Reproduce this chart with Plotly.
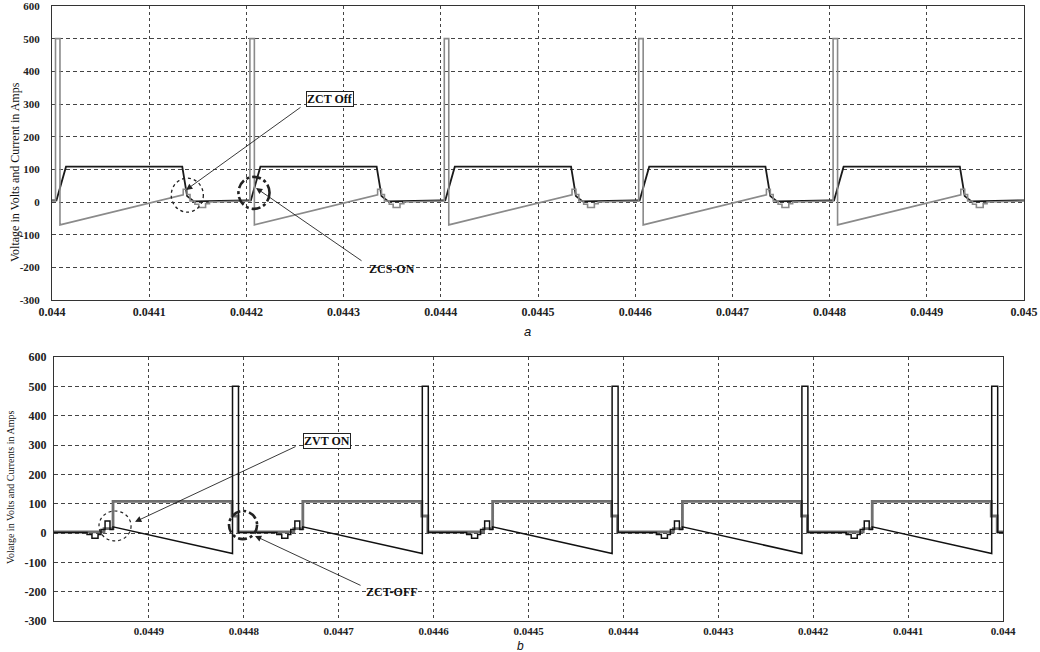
import plotly.graph_objects as go

# ---------------- data ----------------
# (a) top panel: one switching period, offsets in microseconds from the period start
top_period_starts = [0.0440, 0.0442, 0.0444, 0.0446, 0.0448]
top_gray_off_us = [0, 3.6, 3.6, 8.2, 8.2, 135, 135, 139, 139, 142, 142, 147, 147, 151, 151, 158, 158, 162, 162, 200]
top_gray_val = [3, 3, 500, 500, -70, 22, 39, 39, 23, 23, 3, 3, -7, -7, -17, -17, -5, -5, 0, 3]
top_black_off_us = [0, 4.6, 14.4, 134, 139, 146, 200]
top_black_val = [5, 5, 108, 108, 18, 2, 5]

# (b) bottom panel: offsets in microseconds to the right of each grid line
bot_period_starts = [0.0450, 0.0448, 0.0446, 0.0444, 0.0442]
bot_gray_off_us = [0, 52.7, 52.7, 62.2, 62.2, 187.6, 187.6, 193.9, 193.9, 200]
bot_gray_val = [4, 4, 15, 15, 108, 108, 58, 58, 4, 4]
bot_black_off_us = [0, 34.8, 34.8, 40, 40, 46.4, 46.4, 49.5, 49.5, 53.8, 53.8, 59, 59, 62.2, 62.2,
                    188.1, 188.1, 194.4, 194.4, 200]
bot_black_val = [2, 2, -5, -5, -18, -18, -5, -5, 12, 12, 41, 41, 12, 12, 21,
                 -70, 500, 500, 2, 2]

top_xtickvals = [0.0440, 0.0441, 0.0442, 0.0443, 0.0444, 0.0445, 0.0446, 0.0447, 0.0448, 0.0449, 0.0450]
top_xticktext = ["0.044", "0.0441", "0.0442", "0.0443", "0.0444", "0.0445", "0.0446", "0.0447", "0.0448", "0.0449", "0.045"]
bot_xtickvals = [0.0449, 0.0448, 0.0447, 0.0446, 0.0445, 0.0444, 0.0443, 0.0442, 0.0441, 0.0440]
bot_xticktext = ["0.0449", "0.0448", "0.0447", "0.0446", "0.0445", "0.0444", "0.0443", "0.0442", "0.0441", "0.044"]
ytickvals = [-300, -200, -100, 0, 100, 200, 300, 400, 500, 600]
yticktext = ["-300", "-200", "-100", "0", "100", "200", "300", "400", "500", "600"]

top_ylabel = "Voltage in Volts and Current in Amps"
bot_ylabel = "Volatge in Volts and Currents in Amps"

# annotation anchors (data coordinates)
top_zct_circle = dict(xc=0.0441392, yc=21, rx=1.65e-5, ry=52)
top_zcs_circle = dict(xc=0.0442078, yc=28, rx=1.6e-5, ry=49)
bot_zvt_circle = dict(xc=0.0449357, yc=24, rx=1.69e-5, ry=51)
bot_zct_circle = dict(xc=0.0448008, yc=27, rx=1.48e-5, ry=48)


def tile(starts, offs_us, vals, sign):
    xs, ys = [], []
    for s in starts:
        for o, v in zip(offs_us, vals):
            xs.append(s + sign * o * 1e-6)
            ys.append(v)
    return xs, ys


tgx, tgy = tile(top_period_starts, top_gray_off_us, top_gray_val, 1)
tbx, tby = tile(top_period_starts, top_black_off_us, top_black_val, 1)
bgx, bgy = tile(bot_period_starts, bot_gray_off_us, bot_gray_val, -1)
bbx, bby = tile(bot_period_starts, bot_black_off_us, bot_black_val, -1)

fig = go.Figure()
fig.add_trace(go.Scatter(x=tbx, y=tby, mode="lines", line=dict(color="#1a1a1a", width=1.8),
                         xaxis="x", yaxis="y", showlegend=False))
fig.add_trace(go.Scatter(x=tgx, y=tgy, mode="lines", line=dict(color="#8a8a8a", width=1.6),
                         xaxis="x", yaxis="y", showlegend=False))
fig.add_trace(go.Scatter(x=bgx, y=bgy, mode="lines", line=dict(color="#707070", width=2.8),
                         xaxis="x2", yaxis="y2", showlegend=False))
fig.add_trace(go.Scatter(x=bbx, y=bby, mode="lines", line=dict(color="#111111", width=1.5),
                         xaxis="x2", yaxis="y2", showlegend=False))


def tf(size):
    return dict(family="Liberation Serif", size=size, color="#222", weight="bold")


axis_common = dict(showline=True, linecolor="#333", linewidth=1, mirror=True,
                   showgrid=True, gridcolor="#444", gridwidth=1, zeroline=False,
                   ticks="", automargin=False, ticklabeloverflow="allow")

fig.update_layout(
    template="none",
    width=1040, height=652,
    margin=dict(l=0, r=0, t=0, b=0, pad=0),
    paper_bgcolor="white", plot_bgcolor="white",
    showlegend=False,
    xaxis=dict(domain=[52 / 1040, 1024 / 1040], range=[0.0440, 0.0450], tickvals=top_xtickvals,
               ticktext=top_xticktext, griddash="dot", anchor="y", ticklabelstandoff=1,
               tickfont=tf(12), **axis_common),
    yaxis=dict(domain=[1 - 300 / 652, 1 - 6 / 652], range=[-300, 600], tickvals=ytickvals,
               ticktext=yticktext, griddash="4px,3px", anchor="x", ticklabelstandoff=9,
               tickfont=tf(11), **axis_common),
    xaxis2=dict(domain=[54 / 1040, 1003 / 1040], range=[0.0450, 0.0440], tickvals=bot_xtickvals,
                ticktext=bot_xticktext, griddash="dot", anchor="y2", ticklabelstandoff=0,
                tickfont=tf(11), **axis_common),
    yaxis2=dict(domain=[1 - 621 / 652, 1 - 357 / 652], range=[-300, 600], tickvals=ytickvals,
                ticktext=yticktext, griddash="4px,3px", anchor="x2", ticklabelstandoff=4,
                tickfont=tf(12), **axis_common),
)


def circ(c, xref, yref, dash, width):
    return dict(type="circle", xref=xref, yref=yref,
                x0=c["xc"] - c["rx"], x1=c["xc"] + c["rx"],
                y0=c["yc"] - c["ry"], y1=c["yc"] + c["ry"],
                line=dict(color="#222", width=width, dash=dash))


fig.update_layout(shapes=[
    circ(top_zct_circle, "x", "y", "dot", 1.3),
    circ(top_zcs_circle, "x", "y", "dashdot", 2.6),
    circ(bot_zvt_circle, "x2", "y2", "dot", 1.2),
    circ(bot_zct_circle, "x2", "y2", "dashdot", 2.6),
])

labfont = dict(family="Liberation Serif", size=12, color="#111")
annots = []


def arrow(xref, yref, tip, tail):
    return dict(xref=xref, yref=yref, axref=xref, ayref=yref, x=tip[0], y=tip[1],
                ax=tail[0], ay=tail[1], text="", showarrow=True, arrowhead=2,
                arrowsize=1.4, arrowwidth=0.9, arrowcolor="#222", standoff=0)


annots.append(arrow("x", "y", (0.0441379, 37), (0.0442572, 293)))
annots.append(dict(xref="x", yref="y", x=0.0442860, y=316, text="<b>ZCT Off</b>", showarrow=False,
                   font=labfont, bordercolor="#222", borderwidth=1, borderpad=0, bgcolor="white",
                   xanchor="center", yanchor="middle"))
annots.append(arrow("x", "y", (0.0442099, 43), (0.0443200, -183)))
annots.append(dict(xref="x", yref="y", x=0.0443495, y=-205, text="<b>ZCS-ON</b>", showarrow=False,
                   font=labfont, xanchor="center", yanchor="middle"))
annots.append(arrow("x2", "y2", (0.0449146, 38), (0.0447439, 297)))
annots.append(dict(xref="x2", yref="y2", x=0.0447123, y=314, text="<b>ZVT ON</b>", showarrow=False,
                   font=labfont, bordercolor="#222", borderwidth=1, borderpad=0, bgcolor="white",
                   xanchor="center", yanchor="middle"))
annots.append(arrow("x2", "y2", (0.0447882, -10), (0.0446754, -181)))
annots.append(dict(xref="x2", yref="y2", x=0.0446442, y=-200, text="<b>ZCT-OFF</b>", showarrow=False,
                   font=labfont, xanchor="center", yanchor="middle"))

# y titles and captions
annots.append(dict(xref="paper", yref="paper", x=15 / 1040, y=1 - 172 / 652, text=top_ylabel,
                   textangle=-90, showarrow=False, xanchor="center", yanchor="middle",
                   font=dict(family="Liberation Serif", size=12, color="#111")))
annots.append(dict(xref="paper", yref="paper", x=10 / 1040, y=1 - 488 / 652, text=bot_ylabel,
                   textangle=-90, showarrow=False, xanchor="center", yanchor="middle",
                   font=dict(family="Liberation Serif", size=10, color="#111")))
annots.append(dict(xref="paper", yref="paper", x=527 / 1040, y=1 - 332 / 652, text="<i>a</i>",
                   showarrow=False, xanchor="center", yanchor="middle",
                   font=dict(family="Liberation Sans", size=13, color="#111")))
annots.append(dict(xref="paper", yref="paper", x=520 / 1040, y=1 - 646 / 652, text="<i>b</i>",
                   showarrow=False, xanchor="center", yanchor="middle",
                   font=dict(family="Liberation Sans", size=12, color="#111")))

fig.update_layout(annotations=annots)
fig.write_html("out.html")
